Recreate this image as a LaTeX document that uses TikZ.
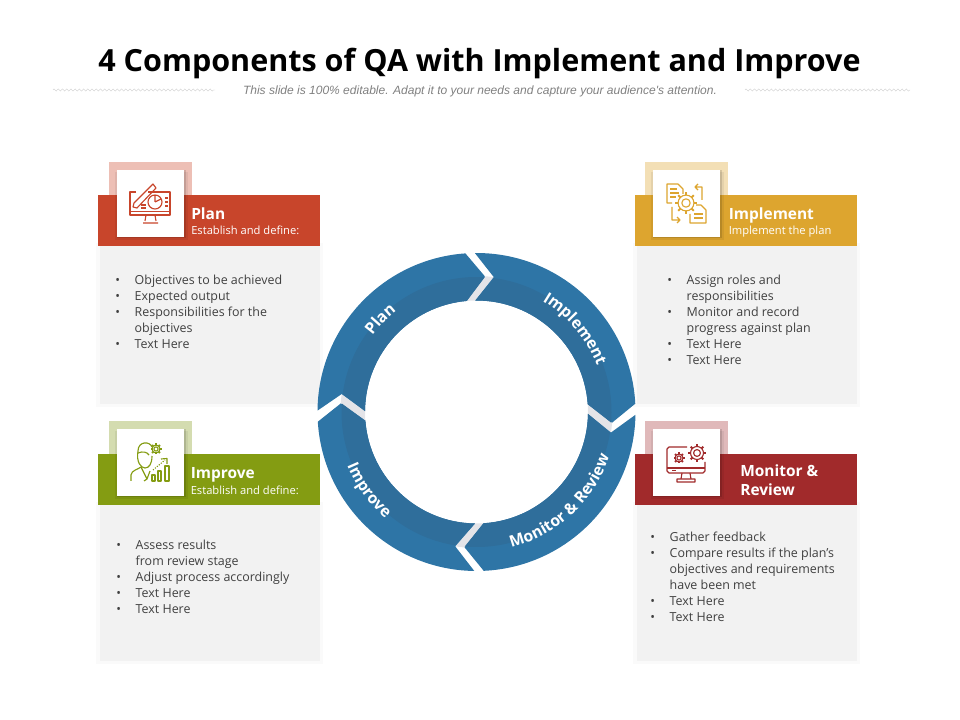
\documentclass[tikz,border=0pt]{standalone}
\usepackage{fontspec}
\setmainfont{Open Sans}
\newfontfamily\subfont{Liberation Sans}
\usetikzlibrary{calc}
\usetikzlibrary{decorations.pathmorphing}
\usetikzlibrary{decorations.text}
\definecolor{mring}{HTML}{2E75A6}
\definecolor{mband}{HTML}{2F6E9B}
\definecolor{mgap}{HTML}{E4E4E8}
\definecolor{mpanel}{HTML}{F2F2F2}
\definecolor{mplan}{HTML}{C8452B}
\definecolor{mimpl}{HTML}{DDA52F}
\definecolor{mimpr}{HTML}{849C12}
\definecolor{mmoni}{HTML}{A12A2B}
\definecolor{mplanb}{HTML}{EDBFB5}
\definecolor{mimplb}{HTML}{F3DFB5}
\definecolor{mimprb}{HTML}{D4DCB0}
\definecolor{mmonib}{HTML}{E0B9BA}
\definecolor{mtext}{HTML}{404040}
\tikzset{bodytext/.style = {anchor=north west, inner sep=0, align=left, text=mtext,
                            font=\fontsize{8.85}{11.34}\selectfont}}
\tikzset{headtext/.style = {anchor=west, inner sep=0, text=white, font=\fontsize{11}{13.4}\selectfont\bfseries, align=left}}
\tikzset{subtext/.style = {anchor=west, inner sep=0, text=white, font=\fontsize{7.95}{10}\selectfont}}
\tikzset{titlerule/.style = {draw=gray!40, line width=0.25pt, decorate,
                             decoration={zigzag, segment length=3, amplitude=0.8}}}
\tikzset{icon/.style = {line width=0.8pt, line join=round, fill=none}}
\newcommand{\ringfont}{\fontsize{11.2}{13}\selectfont\bfseries\color{white}}
\newlength{\bw}
\setlength{\bw}{13.8pt}
\newcommand{\bl}{\makebox[\bw][l]{•}}
\newcommand{\nb}{\hspace*{\bw}}
% gear: centre, radius
\newcommand{\gearicon}[2]{
  \draw [icon] #1 circle (#2*0.72);
  \draw [icon] #1 circle (#2*0.38);
  \foreach \ga in {0, 45, ..., 315}
    \draw [icon, line width=1.4pt] ($#1+(\ga:#2*0.72)$) -- ($#1+(\ga:#2)$);
}
\begin{document}
\begin{tikzpicture}[x=0.025cm, y=0.025cm]
    \useasboundingbox (0, 0) rectangle (960, -720);

    \node (title) [font=\fontsize{21.7}{26}\selectfont\bfseries, text=black] at (479.5, -63.5) {4 Components of QA with Implement and Improve};
    \node (subtitle) [font=\subfont\itshape\fontsize{8.55}{10}\selectfont, text=gray] at (480, -91) {This slide is 100\% editable. Adapt it to your needs and capture your audience's attention.};
    \draw [titlerule] (53, -90) -- (215, -90);
    \draw [titlerule] (745, -90) -- (910, -90);

    % panels
    \foreach \px/\py/\ph/\hc/\bc/\ix in {98/195/209/mplan/mplanb/109,
                                         635/195/209/mimpl/mimplb/645,
                                         98/454/207/mimpr/mimprb/109,
                                         635/454/207/mmoni/mmonib/645} {
      \fill [gray!4] (\px-2, -\py-48) rectangle (\px+225, -\py-\ph-3);
      \fill [mpanel] (\px+2, -\py-51) rectangle (\px+222, -\py-\ph);
      \fill [\bc] (\ix, -\py) rectangle (\ix+83, -\py+33);
      \fill [\hc] (\px, -\py) rectangle (\px+222, -\py-51);
      \fill [black, opacity=0.06] (\ix+6, -\py+23) rectangle (\ix+79, -\py-45);
      \fill [black, opacity=0.12] (\ix+8, -\py+25) rectangle (\ix+77, -\py-43);
      \fill [white] (\ix+8, -\py+25) rectangle (\ix+75, -\py-42);
    }

    % ring
    \coordinate (ringc) at (476.5, -412);
    \fill [mgap, even odd rule] (ringc) circle (136) (ringc) circle (111.5);
    \foreach \sa/\ea/\na/\ta in {90.6/3/82.7/-4.5, -1/-87.4/-8.7/-95, -90.8/-176.5/-99/-183.6, 179.5/94/172.4/86.5} {
      \fill [mring] ($(ringc)+(\sa:159)$) arc [start angle=\sa, end angle=\ea, radius=159]
        -- ($(ringc)+(\ta:136)$) -- ($(ringc)+(\ea+1:111.5)$)
        arc [start angle=\ea+1, end angle=\sa, radius=111.5]
        -- ($(ringc)+(\na:136)$) -- cycle;
      \fill [mband] ($(ringc)+(\na:135)$) arc [start angle=\na, end angle=\ta, radius=135]
        -- ($(ringc)+(\ea+1:111.5)$)
        arc [start angle=\ea+1, end angle=\sa, radius=111.5] -- cycle;
    }
    \path [decorate, decoration={text along path, text align=center, text={|\ringfont|Plan}}]
      ($(ringc)+(170:129)$) arc [start angle=170, end angle=102, radius=129];
    \path [decorate, decoration={text along path, text align=center, text={|\ringfont|Implement}}]
      ($(ringc)+(74:129)$) arc [start angle=74, end angle=6, radius=129];
    \path [decorate, decoration={text along path, text align=center, text={|\ringfont|Monitor {\&} Review}}]
      ($(ringc)+(-92:140)$) arc [start angle=-92, end angle=-2, radius=140];
    \path [decorate, decoration={text along path, text align=center, text={|\ringfont|Improve}}]
      ($(ringc)+(180:140)$) arc [start angle=180, end angle=252, radius=140];

    % headers
    \node (planhead) [headtext] at (191, -214) {Plan};
    \node (plansub) [subtext] at (191, -230) {Establish and define:};
    \node (implhead) [headtext] at (728.5, -215.5) {Implement};
    \node (implsub) [subtext] at (728.5, -231.5) {Implement the plan};
    \node (imprhead) [headtext] at (190.5, -474.5) {Improve};
    \node (imprsub) [subtext] at (190.5, -490.5) {Establish and define:};
    \node (monihead) [headtext] at (740, -480) {Monitor \&\\[0.2pt]Review};

    % lists
    \node (planlist) [bodytext] at (115, -275) {\bl Objectives to be achieved\\\bl Expected output\\\bl Responsibilities for the\\\nb objectives\\\bl Text Here};
    \node (impllist) [bodytext] at (667, -275) {\bl Assign roles and\\\nb responsibilities\\\bl Monitor and record\\\nb progress against plan\\\bl Text Here\\\bl Text Here};
    \node (imprlist) [bodytext] at (116, -540) {\bl Assess results\\\nb from review stage\\\bl Adjust process accordingly\\\bl Text Here\\\bl Text Here};
    \node (monilist) [bodytext] at (650, -532) {\bl Gather feedback\\\bl Compare results if the plan's\\\nb objectives and requirements\\\nb have been met\\\bl Text Here\\\bl Text Here};

    % plan icon
    \begin{scope}[color=mplan]
      \draw [icon] (148, -192) -- (170, -192) -- (170, -215) -- (130, -215) -- (130, -192) -- (136, -192);
      \draw [icon] (130, -211.5) -- (170, -211.5);
      \draw [icon] (146, -215) -- (145, -221) (155, -215) -- (156, -221) (143, -223) -- (158, -223);
      \draw [icon] (133, -207) -- (137, -208) -- (156, -188) -- (153, -184) -- (134, -203) -- cycle;
      \draw [icon] (155, -202) circle (7) (155, -202) -- (155, -195) (155, -202) -- (161, -199);
      \draw [icon] (165, -198) -- (168, -198) (165, -202) -- (168, -202) (165, -206) -- (168, -206);
      \draw [icon] (141, -205) -- (146, -205) (141, -208) -- (146, -208);
    \end{scope}

    % implement icon
    \begin{scope}[color=mimpl]
      \draw [icon] (672, -203) -- (667, -203) -- (667, -184) -- (678, -184) -- (683, -189) -- (683, -194);
      \draw [icon] (670, -189) -- (677, -189) (670, -193) -- (679, -193) (670, -197) -- (676, -197);
      \draw [icon] (696, -205) -- (701, -205) -- (706, -210) -- (706, -223) -- (690, -223) -- (690, -214);
      \draw [icon] (694, -214) -- (703, -214) (694, -218) -- (703, -218);
      \draw [icon] (695, -187) -- (702, -187) -- (702, -200) (698, -184) -- (695, -187) -- (698, -190);
      \draw [icon] (672, -207) -- (672, -220) -- (680, -220) (677, -217) -- (680, -220) -- (677, -223);
      \gearicon{(686, -203)}{11}
    \end{scope}

    % improve icon
    \begin{scope}[color=mimpr]
      \draw [icon] (138, -451) .. controls (138, -441) and (150, -441) .. (152, -447);
      \draw [icon] (138, -451) .. controls (136, -462) and (141, -468) .. (145, -468) .. controls (149, -468) and (152, -464) .. (152, -456);
      \draw [icon] (138, -453) .. controls (143, -451) and (147, -452) .. (149, -455);
      \draw [icon] (131, -481) -- (131, -475) .. controls (132, -470) and (137, -470) .. (141, -467) -- (147, -479) -- (150, -471);
      \draw [icon] (147, -479) -- (144, -481);
      \draw [icon] (152, -481) rectangle (155, -475) (158, -481) rectangle (161, -471) (165, -481) rectangle (169, -466);
      \draw [icon, densely dotted] (153, -470) -- (165, -460);
      \draw [icon] (161, -459) -- (167, -458.5) -- (167, -464);
      \gearicon{(156, -449)}{5.5}
    \end{scope}

    % monitor icon
    \begin{scope}[color=mmoni]
      \draw [icon] (687, -447) -- (669, -447) -- (667, -449) -- (667, -471) -- (669, -473) -- (703, -473) -- (705, -471) -- (705, -462);
      \draw [icon] (667, -468) -- (705, -468) (672, -470.5) -- (676, -470.5);
      \draw [icon] (682, -473) -- (681, -479) (690, -473) -- (691, -479) (677, -482) rectangle (695, -479);
      \gearicon{(697, -453)}{9}
      \gearicon{(679, -458)}{5.5}
    \end{scope}
\end{tikzpicture}
\end{document}
